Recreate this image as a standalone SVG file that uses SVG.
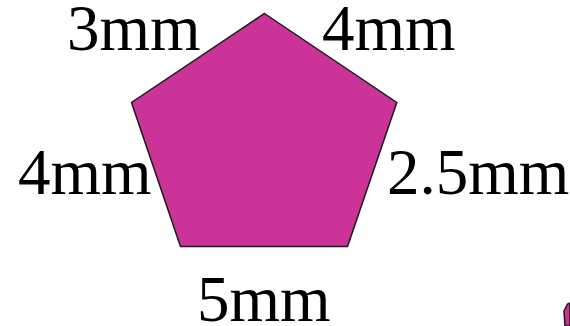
<svg xmlns="http://www.w3.org/2000/svg" width="570" height="326" viewBox="0 0 570 326">
<style>
.lbl{font-family:"Liberation Serif","Times New Roman",serif;font-size:65px;fill:#000}
.shape{fill:#CC3399;stroke:#1a1a1a;stroke-width:1.5;stroke-linejoin:miter}
</style>
<rect width="570" height="326" fill="#fff"/>
<g id="pentagon">
<polygon class="shape" points="264.5,13.5 396.8,102.5 347.5,246.5 180.5,246.5 131.5,102.5"/>
</g>
<g id="labels">
<text class="lbl" x="67" y="50">3mm</text>
<text class="lbl" x="322" y="50">4mm</text>
<text class="lbl" x="18" y="194">4mm</text>
<text class="lbl" x="387" y="194">2.5mm</text>
<text class="lbl" x="197" y="321">5mm</text>
</g>
<g id="fragment">
<polygon class="shape" points="564,311 567.5,304 570,303 570,326 565,326"/>
</g>
</svg>
